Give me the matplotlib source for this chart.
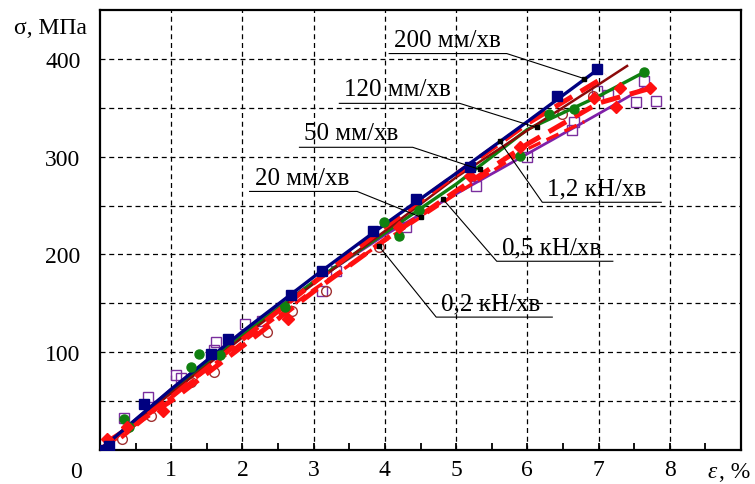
"""
Stress-strain curves at different loading rates (sigma vs epsilon)
"""

import matplotlib
matplotlib.use("Agg")
import matplotlib.pyplot as plt
from matplotlib.ticker import MultipleLocator

plt.rcParams["font.family"] = ["Liberation Serif", "DejaVu Serif"]

# measured points
SQ_X = [0.03, 0.13, 0.62, 1.56, 1.79, 2.68, 3.11, 3.83, 4.44, 5.19, 6.42, 6.98]
SQ_Y = [0, 4, 47, 98, 113, 158, 183, 224, 257, 290, 362, 390]

GR_X = [0.34, 0.41, 1.28, 1.39, 1.68, 2.59, 3.99, 4.2, 4.48, 5.89, 6.31, 6.66, 7.64]
GR_Y = [31, 23, 85, 98, 97, 146, 233, 219, 245, 301, 344, 349, 387]

OSQ_X = [0.34, 0.67, 1.07, 1.14, 1.6, 1.63, 2.03, 2.28, 3.12, 3.31, 4.3, 5.28,
         6.0, 6.63, 6.66, 6.98, 7.13, 7.53, 7.64, 7.81]
OSQ_Y = [32, 54, 77, 73, 102, 110, 129, 132, 163, 183, 228, 270,
         300, 327, 336, 367, 363, 356, 378, 357]

OC_X = [0.31, 0.72, 1.28, 1.6, 2.35, 2.7, 3.17, 3.92, 6.48, 6.92]
OC_Y = [11, 35, 69, 80, 121, 142, 163, 208, 344, 362]

DI_X = [0.1, 0.38, 0.88, 2.64, 4.2, 5.2, 5.9, 6.94, 7.25, 7.3, 7.72]
DI_Y = [11, 23, 40, 134, 228, 280, 310, 360, 351, 370, 370]

# fitted curves
NAVY_X = [0, 1, 2, 3, 4, 5, 6, 7.0]
NAVY_Y = [0, 62, 121, 177, 231, 283, 336, 390]
DRED_X = [0, 1, 2, 3, 4, 5, 6, 7, 7.4]
DRED_Y = [0, 58, 115, 170, 224, 279, 327, 374, 393]
GRN_X = [0, 1, 2, 3, 4, 5, 6, 7, 7.65]
GRN_Y = [0, 60, 117, 172, 222, 272, 328, 362, 387]
PUR_X = [0, 1, 2, 3, 4, 5, 6, 7, 7.62]
PUR_Y = [0, 62, 120, 172, 220, 262, 303, 344, 370]
RA_X = [0, 1, 2, 3, 4, 5, 6, 7, 7.1]
RA_Y = [0, 54, 113, 171, 228, 282, 334, 378, 384]
RB_X = [0.1, 1, 2, 3, 4, 5, 6, 7, 7.72]
RB_Y = [8, 50, 106, 162, 215, 265, 313, 355, 370]
RC_X = [0.3, 1, 2, 3, 4, 5, 6, 6.8]
RC_Y = [12, 54, 110, 164, 214, 262, 308, 336]

# labels: text, underline from-x, to-x, underline y, target point
LABELS = [
    ("200 мм/хв", 4.06, 5.71, 405.7, (6.80, 380)),
    ("120 мм/хв", 3.36, 5.05, 354.7, (6.13, 330)),
    ("50 мм/хв", 2.80, 4.39, 309.7, (5.33, 287)),
    ("20 мм/хв", 2.10, 3.61, 264.5, (4.51, 238)),
    ("1,2 кН/хв", 7.88, 6.21, 253.4, (5.61, 316)),
    ("0,5 кН/хв", 7.20, 5.57, 193.0, (4.81, 257)),
    ("0,2 кН/хв", 6.35, 4.72, 135.8, (3.91, 209)),
]

X_TICKS = [1, 2, 3, 4, 5, 6, 7, 8]
Y_TICKS = [100, 200, 300, 400]

fig = plt.figure(figsize=(7.55, 4.85), dpi=100)
ax = fig.add_axes([0.1325, 0.0707, 0.849, 0.906])
ax.set_xlim(0, 9)
ax.set_ylim(0, 450)

for x in X_TICKS:
    ax.axvline(x, color="black", lw=0.9, ls=(0, (4, 3)), zorder=0)
for y in range(50, 450, 50):
    ax.axhline(y, color="black", lw=0.9, ls=(0, (4, 3)), zorder=0)

ax.plot(OSQ_X, OSQ_Y, "s", ms=7, mfc="none", mec="#7a2e9e", mew=1.0, zorder=2)
ax.plot(OC_X, OC_Y, "o", ms=7, mfc="none", mec="#a03030", mew=1.0, zorder=2)

ax.plot(PUR_X, PUR_Y, color="#8020a8", lw=2.0, zorder=3)
ax.plot(GRN_X, GRN_Y, color="#108010", lw=2.4, zorder=3)
ax.plot(DRED_X, DRED_Y, color="#8b0a0a", lw=1.8, zorder=3)
for xs, ys, lw in [(RC_X, RC_Y, 2.4), (RB_X, RB_Y, 3.6), (RA_X, RA_Y, 3.6)]:
    ax.plot(xs, ys, color="#ff1010", lw=lw, ls=(0, (4, 2)), zorder=4)
ax.plot(NAVY_X, NAVY_Y, color="#000080", lw=2.4, zorder=5)

ax.plot(GR_X, GR_Y, "o", ms=6.5, color="#108010", zorder=5)
ax.plot(DI_X, DI_Y, "D", ms=6, color="#ff1010", zorder=5)
ax.plot(SQ_X, SQ_Y, "s", ms=7.5, color="#000080", zorder=6)

for text, x0, x1, yl, (px, py) in LABELS:
    ax.plot([x0, x1, px], [yl, yl, py], color="black", lw=0.8, zorder=7)
    ax.plot([px], [py], "s", ms=2.5, color="black", zorder=7)
    ax.text(min(x0, x1) + 0.07, yl + 3, text, fontsize=18, ha="left", va="bottom", zorder=8)

for sp in ax.spines.values():
    sp.set_linewidth(1.6)

ax.set_xticks(X_TICKS)
ax.xaxis.set_minor_locator(MultipleLocator(0.5))
ax.set_yticks(Y_TICKS)
ax.tick_params(axis="x", which="both", direction="in", length=5, width=1.3, labelsize=17, pad=7)
ax.tick_params(axis="y", length=0, labelsize=17, pad=14)

fig.text(76 / 755, 1 - 473 / 485, "0", fontsize=17, ha="center", va="center")
fig.text(50 / 755, 1 - 28 / 485, "σ, МПа", fontsize=17, ha="center", va="center")
fig.text(712 / 755, 1 - 473 / 485, "ε", fontsize=17, style="italic", ha="center", va="center")
fig.text(719 / 755, 1 - 473 / 485, ", %", fontsize=17, ha="left", va="center")

fig.savefig("out.png", dpi=100)
